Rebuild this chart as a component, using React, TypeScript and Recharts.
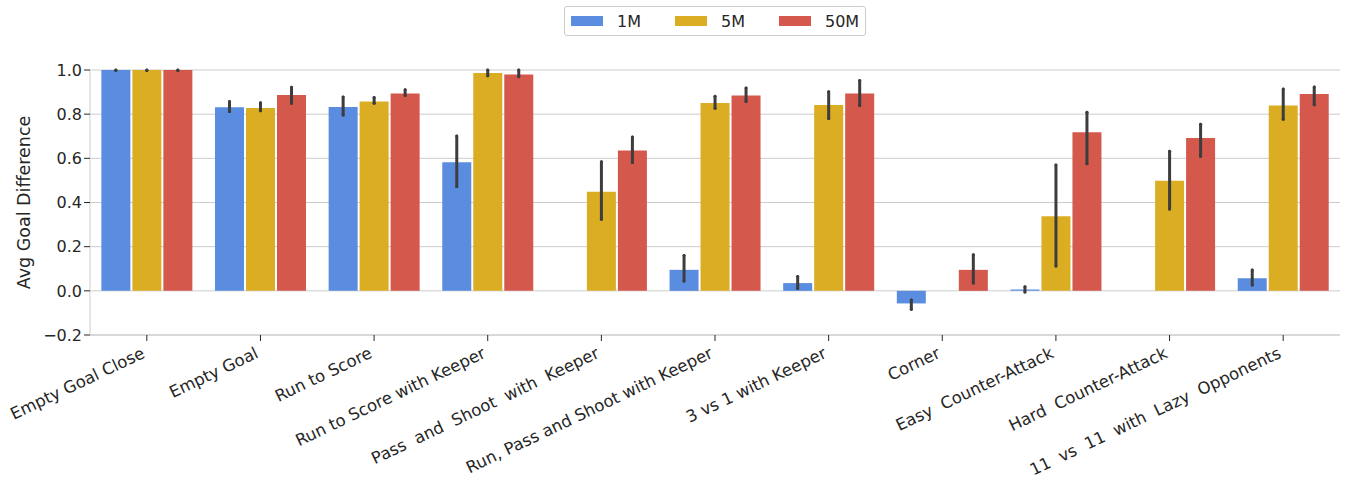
import React from "react";
import { BarChart, Bar, XAxis, YAxis, CartesianGrid, Legend, ErrorBar } from "recharts";

const categories = [
  "Empty Goal Close",
  "Empty Goal",
  "Run to Score",
  "Run to Score with Keeper",
  "Pass  and  Shoot  with  Keeper",
  "Run, Pass and Shoot with Keeper",
  "3 vs 1 with Keeper",
  "Corner",
  "Easy  Counter-Attack",
  "Hard  Counter-Attack",
  "11  vs  11  with  Lazy  Opponents",
];

const m1 = [1.0, 0.831, 0.833, 0.582, 0, 0.095, 0.035, -0.057, 0.006, 0, 0.057];
const m1Lo = [0.998, 0.812, 0.796, 0.472, -0.002, 0.044, 0.011, -0.083, -0.005, -0.002, 0.026];
const m1Hi = [1.0, 0.857, 0.878, 0.701, 0.002, 0.16, 0.065, -0.042, 0.019, 0.002, 0.094];

const m5 = [1.0, 0.828, 0.857, 0.986, 0.449, 0.851, 0.842, 0, 0.338, 0.499, 0.839];
const m5Lo = [0.998, 0.815, 0.849, 0.974, 0.324, 0.827, 0.78, -0.044, 0.112, 0.371, 0.777];
const m5Hi = [1.0, 0.852, 0.875, 1.0, 0.585, 0.881, 0.902, 0.027, 0.57, 0.632, 0.914];

const m50 = [1.0, 0.887, 0.894, 0.98, 0.635, 0.884, 0.894, 0.095, 0.718, 0.692, 0.891];
const m50Lo = [0.998, 0.849, 0.885, 0.969, 0.581, 0.857, 0.839, 0.035, 0.576, 0.609, 0.843];
const m50Hi = [1.0, 0.922, 0.911, 1.0, 0.697, 0.919, 0.953, 0.163, 0.809, 0.754, 0.923];

const yTicks = [-0.2, 0, 0.2, 0.4, 0.6, 0.8, 1.0];

const seriesNames = ["1M", "5M", "50M"];
const colors = ["#5A8CE0", "#DBAD23", "#D4584C"];

const data = categories.map((c, i) => ({
  name: c,
  m1: m1[i],
  m1Err: [m1[i] - m1Lo[i], m1Hi[i] - m1[i]],
  m5: m5[i],
  m5Err: [m5[i] - m5Lo[i], m5Hi[i] - m5[i]],
  m50: m50[i],
  m50Err: [m50[i] - m50Lo[i], m50Hi[i] - m50[i]],
}));

const FONT = "'DejaVu Sans', sans-serif";

const XTick = (props: any) => {
  const { x, payload } = props;
  return (
    <g transform={`translate(${x - 1},${357}) rotate(-25.5)`}>
      <text
        x={0}
        y={0}
        textAnchor="end"
        fontFamily={FONT}
        fontSize={16.5}
        fill="#262626"
        style={{ whiteSpace: "pre" }}
      >
        {payload.value}
      </text>
    </g>
  );
};

const renderLegend = () => (
  <div
    style={{
      width: 300,
      height: 28,
      border: "1px solid #cccccc",
      borderRadius: 3,
      boxSizing: "content-box",
      position: "relative",
      fontFamily: FONT,
      fontSize: 16,
      color: "#262626",
      background: "#fff",
    }}
  >
    {seriesNames.map((s, i) => (
      <div key={s} style={{ position: "absolute", left: 6 + i * 104, top: 0, height: 28, display: "flex", alignItems: "center" }}>
        <div style={{ width: 32, height: 10, background: colors[i] }} />
        <span style={{ marginLeft: 14 }}>{s}</span>
      </div>
    ))}
  </div>
);

export default function App() {
  return (
    <div style={{ position: "absolute", left: 0, top: 0, background: "#fff" }}>
      <BarChart
        width={1347}
        height={479}
        data={data}
        margin={{ top: 40, right: 7, bottom: 0, left: 0 }}
        barCategoryGap="10%"
        barGap={2}
      >
        <CartesianGrid vertical={false} stroke="#cccccc" strokeWidth={1} />
        <XAxis
          dataKey="name"
          interval={0}
          height={144}
          tick={<XTick />}
          axisLine={{ stroke: "#cccccc" }}
          tickLine={{ stroke: "#262626" }}
          tickSize={6}
        />
        <YAxis
          width={90}
          domain={[-0.2, 1.0]}
          ticks={yTicks}
          allowDataOverflow
          axisLine={{ stroke: "#cccccc" }}
          tickLine={{ stroke: "#262626" }}
          tickSize={6}
          tick={{ fontFamily: FONT, fontSize: 16, fill: "#262626" }}
          tickFormatter={(v: number) => (v < 0 ? "\u2212" + Math.abs(v).toFixed(1) : v.toFixed(1))}
          label={{
            value: "Avg Goal Difference",
            angle: -90,
            position: "insideLeft",
            offset: 24,
            style: { fontFamily: FONT, fontSize: 17.5, fill: "#262626", textAnchor: "middle" },
          }}
        />
        <Legend
          verticalAlign="top"
          content={renderLegend}
          wrapperStyle={{ top: 6, left: 564, width: 302 }}
        />
        {["m1", "m5", "m50"].map((k, i) => (
          <Bar key={k} dataKey={k} name={seriesNames[i]} fill={colors[i]} isAnimationActive={false}>
            <ErrorBar
              dataKey={k + "Err"}
              width={0}
              stroke="#3d3d3d"
              strokeWidth={3}
              strokeLinecap="round"
              direction="y"
            />
          </Bar>
        ))}
      </BarChart>
    </div>
  );
}
